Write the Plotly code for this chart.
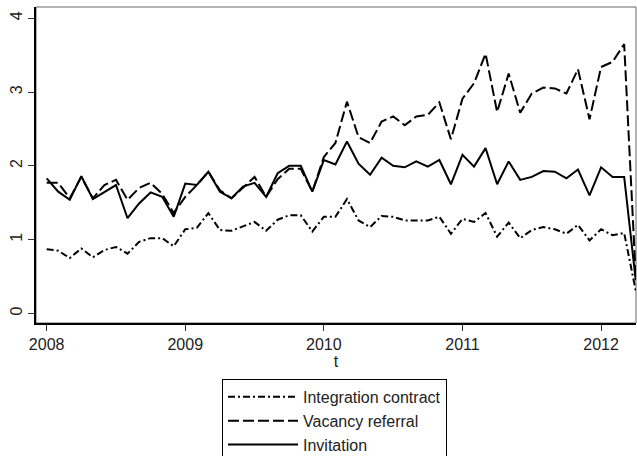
import plotly.graph_objects as go

# Monthly periods 2008m1 .. 2012m4
years = [2008, 2009, 2010, 2011, 2012]
n_months = 52
t = [2008 + i / 12 for i in range(n_months)]

integration_contract = [
    0.87, 0.85, 0.75, 0.88, 0.76, 0.86, 0.90, 0.81, 0.97, 1.02, 1.02, 0.91,
    1.14, 1.16, 1.36, 1.13, 1.12, 1.18, 1.24, 1.12, 1.27, 1.33, 1.33, 1.11,
    1.31, 1.31, 1.55, 1.26, 1.17, 1.32, 1.31, 1.26, 1.26, 1.26, 1.31, 1.08,
    1.28, 1.24, 1.36, 1.04, 1.23, 1.02, 1.13, 1.17, 1.14, 1.08, 1.20, 0.99,
    1.14, 1.06, 1.09, 0.31,
]
vacancy_referral = [
    1.77, 1.77, 1.56, 1.85, 1.56, 1.74, 1.81, 1.54, 1.70, 1.77, 1.62, 1.36,
    1.58, 1.74, 1.92, 1.67, 1.56, 1.70, 1.85, 1.58, 1.82, 1.96, 1.96, 1.65,
    2.12, 2.31, 2.87, 2.39, 2.31, 2.60, 2.67, 2.55, 2.67, 2.69, 2.86, 2.36,
    2.91, 3.12, 3.52, 2.73, 3.25, 2.72, 2.98, 3.06, 3.05, 2.98, 3.31, 2.63,
    3.34, 3.41, 3.65, 0.50,
]
invitation = [
    1.83, 1.65, 1.54, 1.86, 1.55, 1.65, 1.74, 1.29, 1.49, 1.64, 1.58, 1.31,
    1.76, 1.74, 1.92, 1.65, 1.56, 1.72, 1.77, 1.58, 1.90, 2.00, 2.00, 1.65,
    2.08, 2.02, 2.33, 2.03, 1.88, 2.11, 2.00, 1.98, 2.06, 1.99, 2.08, 1.75,
    2.15, 1.99, 2.24, 1.75, 2.06, 1.81, 1.85, 1.93, 1.92, 1.83, 1.95, 1.60,
    1.98, 1.85, 1.85, 0.45,
]
y_ticks = [0, 1, 2, 3, 4]

series = [
    ("Integration contract", integration_contract, "7px,3px,2px,3px"),
    ("Vacancy referral", vacancy_referral, "11px,4px"),
    ("Invitation", invitation, "solid"),
]

fig = go.Figure()
for name, vals, dash in series:
    fig.add_trace(go.Scatter(
        x=t, y=vals, mode="lines", name=name, legendgroup=name,
        line=dict(color="black", width=2, dash=dash),
    ))

fam = "Liberation Sans, Arial, sans-serif"
font = dict(family=fam, size=16, color="#222")

fig.update_layout(
    width=637, height=456,
    margin=dict(l=36, r=1, t=7, b=133, autoexpand=False),
    paper_bgcolor="white", plot_bgcolor="white",
    font=font,
    showlegend=True,
    legend=dict(
        x=0.31, y=-0.177, xanchor="left", yanchor="top",
        bordercolor="black", borderwidth=1, bgcolor="white",
        font=dict(family=fam, size=16, color="#222"),
        itemwidth=70, tracegroupgap=0,
    ),
    xaxis=dict(
        range=[2007.923, 2012.252],
        tickvals=years, ticktext=[str(y) for y in years],
        showgrid=False, zeroline=False, automargin=False,
        showline=True, linecolor="black", linewidth=2,
        ticks="outside", ticklen=6, tickcolor="#333", tickwidth=1,
        tickfont=dict(family=fam, size=16, color="#222"),
        title=dict(text="t", standoff=0, font=dict(family=fam, size=16, color="#222")),
    ),
    yaxis=dict(
        range=[-0.13, 4.153],
        tickvals=y_ticks,
        showgrid=False, zeroline=False, automargin=False,
        showline=True, linecolor="black", linewidth=2,
        ticks="outside", ticklen=6, tickcolor="#333", tickwidth=1,
        tickangle=-90, ticklabelstandoff=0,
        tickfont=dict(family=fam, size=16, color="#222"),
    ),
)

fig.add_shape(type="rect", xref="paper", yref="paper", x0=0, y0=0, x1=1, y1=1,
              line=dict(color="#666", width=1), layer="below")

# Remove the browser's default page margin so the figure fills the window exactly.
fig.write_html(
    "out.html",
    config={"displayModeBar": False},
    post_script="document.body.style.margin='0';"
                "document.documentElement.style.overflow='hidden';",
)
